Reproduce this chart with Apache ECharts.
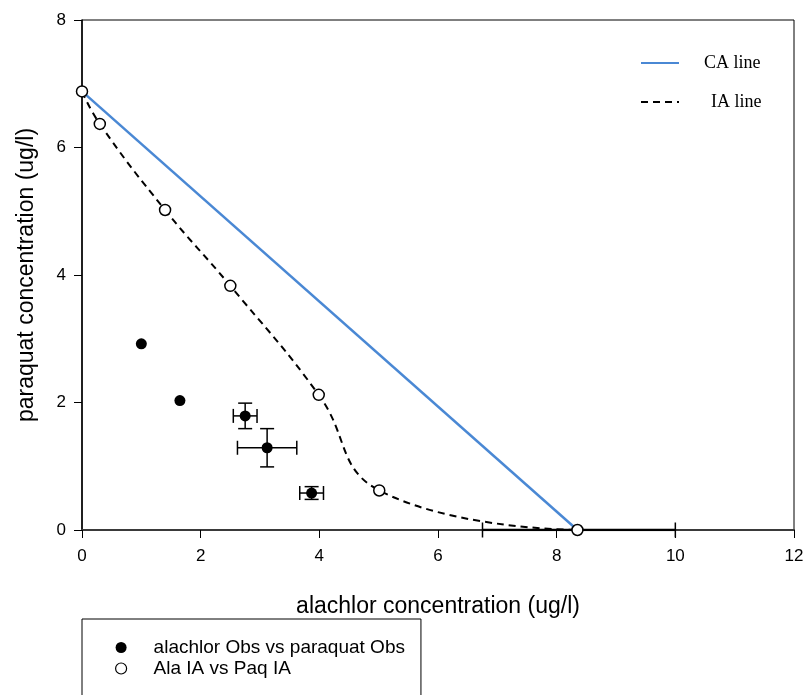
<!DOCTYPE html>
<html>
<head>
<meta charset="utf-8">
<script src="https://cdn.jsdelivr.net/npm/echarts@6/dist/echarts.min.js"></script>
<style>
  html, body { margin: 0; padding: 0; background: #fff; }
  #chart { width: 807px; height: 695px; }
</style>
</head>
<body>
<div id="chart"></div>
<script>
// Observed mixture effect concentrations (mean and error)
const obsAla = [1.0, 1.65, 2.75, 3.12, 3.87];
const obsPaq = [2.92, 2.03, 1.79, 1.29, 0.58];
const obsAlaErr = [0, 0, 0.2, 0.5, 0.2];
const obsPaqErr = [0, 0, 0.2, 0.3, 0.1];

// Independent action (IA) prediction
const iaAla = [0, 0.3, 1.4, 2.5, 3.99, 5.01, 8.35];
const iaPaq = [6.88, 6.37, 5.02, 3.83, 2.12, 0.62, 0];

// Concentration addition (CA) line
const caAla = [0, 8.35];
const caPaq = [6.88, 0];

// Short baseline segment with end ticks
const segAla = [6.75, 10];
const segPaq = [0, 0];

// Axis ticks
const xTicks = [0, 2, 4, 6, 8, 10, 12];
const yTicks = [0, 2, 4, 6, 8];

const SANS = '"Liberation Sans", Arial, sans-serif';
const SERIF = '"Liberation Serif", "Times New Roman", serif';

const zip = (a, b) => a.map((v, i) => [v, b[i]]);

const chart = echarts.init(document.getElementById('chart'));

chart.setOption({
  animation: false,
  backgroundColor: '#fff',
  grid: {
    left: 82, right: 13, top: 20, bottom: 165,
    show: true, borderColor: '#000', borderWidth: 1
  },
  xAxis: {
    type: 'value',
    min: xTicks[0], max: xTicks[xTicks.length - 1], interval: xTicks[1] - xTicks[0],
    name: 'alachlor concentration (ug/l)',
    nameLocation: 'middle', nameGap: 65,
    nameTextStyle: { fontFamily: SANS, fontSize: 23, color: '#000' },
    axisLine: { show: true, onZero: false, lineStyle: { color: '#3a3a3a', width: 2 } },
    axisTick: { show: true, inside: false, length: 8, lineStyle: { color: '#000', width: 1 } },
    axisLabel: { fontFamily: SANS, fontSize: 17, color: '#000', margin: 18 },
    splitLine: { show: false }
  },
  yAxis: {
    type: 'value',
    min: yTicks[0], max: yTicks[yTicks.length - 1], interval: yTicks[1] - yTicks[0],
    name: 'paraquat concentration (ug/l)',
    nameLocation: 'middle', nameGap: 44, nameRotate: 90,
    nameTextStyle: { fontFamily: SANS, fontSize: 23, color: '#000' },
    axisLine: { show: true, onZero: false, lineStyle: { color: '#000', width: 1.5 } },
    axisTick: { show: true, inside: false, length: 8, lineStyle: { color: '#000', width: 1 } },
    axisLabel: { fontFamily: SANS, fontSize: 17, color: '#000', margin: 16 },
    splitLine: { show: false }
  },
  legend: [
    {
      orient: 'vertical',
      left: 635, top: 49,
      itemWidth: 38, itemHeight: 14, itemGap: 21,
      itemStyle: { color: 'rgba(0,0,0,0)', borderWidth: 0 },
      textStyle: { fontFamily: SERIF, fontSize: 18, color: '#000' },
      data: [
        { name: 'CA line', textStyle: { padding: [0, 0, 0, 20] } },
        { name: 'IA line', textStyle: { padding: [0, 0, 0, 27] } }
      ]
    },
    {
      orient: 'vertical',
      left: 82, top: 619,
      height: 200,
      padding: [19, 16, 40, 33],
      borderColor: '#000', borderWidth: 1,
      itemWidth: 11, itemHeight: 11, itemGap: 2,
      textStyle: { fontFamily: SANS, fontSize: 19, color: '#000', padding: [0, 0, 0, 22] },
      data: [
        'alachlor Obs vs paraquat Obs',
        { name: 'Ala IA vs Paq IA', itemStyle: { borderWidth: 1.2 } }
      ]
    }
  ],
  series: [
    {
      name: 'baseline segment',
      type: 'line',
      data: zip(segAla, segPaq),
      symbol: 'rect', symbolSize: [1.5, 15],
      itemStyle: { color: '#000' },
      lineStyle: { color: '#000', width: 2.5 },
      silent: true, z: 3
    },
    {
      name: 'CA line',
      type: 'line',
      data: zip(caAla, caPaq),
      symbol: 'none',
      lineStyle: { color: '#4a88d4', width: 2.5 },
      z: 4
    },
    {
      name: 'IA line',
      type: 'line',
      data: zip(iaAla, iaPaq),
      symbol: 'none',
      smooth: 0.45,
      lineStyle: { color: '#000', width: 2, type: [7, 5] },
      z: 5
    },
    {
      name: 'Ala IA vs Paq IA',
      type: 'scatter',
      data: zip(iaAla, iaPaq),
      symbol: 'circle', symbolSize: 11,
      itemStyle: { color: '#fff', borderColor: '#000', borderWidth: 1.5, opacity: 1 },
      z: 6
    },
    {
      name: 'obs error',
      type: 'custom',
      data: obsAla.map((v, i) => [v, obsPaq[i], obsAlaErr[i], obsPaqErr[i]]),
      encode: { x: 0, y: 1 },
      renderItem: function (params, api) {
        const x = api.value(0), y = api.value(1);
        const ex = api.value(2), ey = api.value(3);
        const c = api.coord([x, y]);
        const cap = 7;
        const st = { stroke: '#000', lineWidth: 1.5 };
        const kids = [];
        if (ex > 0) {
          const l = api.coord([x - ex, y]), r = api.coord([x + ex, y]);
          kids.push({ type: 'line', shape: { x1: l[0], y1: c[1], x2: r[0], y2: c[1] }, style: st });
          kids.push({ type: 'line', shape: { x1: l[0], y1: c[1] - cap, x2: l[0], y2: c[1] + cap }, style: st });
          kids.push({ type: 'line', shape: { x1: r[0], y1: c[1] - cap, x2: r[0], y2: c[1] + cap }, style: st });
        }
        if (ey > 0) {
          const t = api.coord([x, y + ey]), b = api.coord([x, y - ey]);
          kids.push({ type: 'line', shape: { x1: c[0], y1: t[1], x2: c[0], y2: b[1] }, style: st });
          kids.push({ type: 'line', shape: { x1: c[0] - cap, y1: t[1], x2: c[0] + cap, y2: t[1] }, style: st });
          kids.push({ type: 'line', shape: { x1: c[0] - cap, y1: b[1], x2: c[0] + cap, y2: b[1] }, style: st });
        }
        return { type: 'group', children: kids };
      },
      silent: true, z: 7
    },
    {
      name: 'alachlor Obs vs paraquat Obs',
      type: 'scatter',
      data: zip(obsAla, obsPaq),
      symbol: 'circle', symbolSize: 11,
      itemStyle: { color: '#000', opacity: 1 },
      z: 8
    }
  ]
});
</script>
</body>
</html>
